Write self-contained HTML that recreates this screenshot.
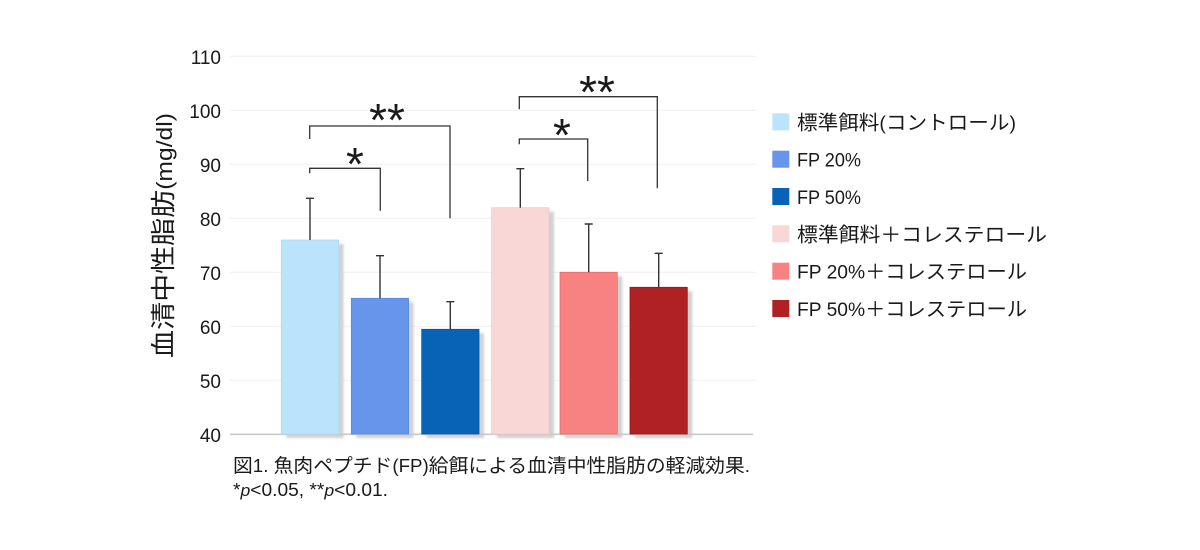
<!DOCTYPE html>
<html>
<head>
<meta charset="utf-8">
<style>
  html, body { margin: 0; padding: 0; background: #ffffff; }
  svg { display: block; }
  text { font-family: "Liberation Sans", "Noto Sans CJK JP", sans-serif; fill: #1a1a1a; }
  .cjk { font-family: "Noto Sans CJK JP", "Liberation Sans", sans-serif; }
</style>
</head>
<body>
<svg width="1200" height="550" viewBox="0 0 1200 550" xmlns="http://www.w3.org/2000/svg">
  <defs>
    <filter id="sh" x="-10%" y="-10%" width="130%" height="130%">
      <feGaussianBlur stdDeviation="1"/>
    </filter>
  </defs>

  <!-- gridlines -->
  <g stroke="#efefef" stroke-width="1">
    <line x1="230" y1="56.3" x2="756" y2="56.3"/>
    <line x1="230" y1="110.3" x2="756" y2="110.3"/>
    <line x1="230" y1="164.3" x2="756" y2="164.3"/>
    <line x1="230" y1="218.3" x2="756" y2="218.3"/>
    <line x1="230" y1="272.3" x2="756" y2="272.3"/>
    <line x1="230" y1="326.3" x2="756" y2="326.3"/>
    <line x1="230" y1="380.3" x2="756" y2="380.3"/>
  </g>

  <!-- tick labels -->
  <g font-size="19" text-anchor="end">
    <text x="221" y="64">110</text>
    <text x="221" y="118">100</text>
    <text x="221" y="172">90</text>
    <text x="221" y="226">80</text>
    <text x="221" y="280">70</text>
    <text x="221" y="334">60</text>
    <text x="221" y="388">50</text>
    <text x="221" y="442">40</text>
  </g>

  <!-- y-axis label -->
  <text transform="translate(172,358) rotate(-90)" x="0" y="0" textLength="245" lengthAdjust="spacingAndGlyphs"><tspan class="cjk" font-size="25">血清中性脂肪</tspan><tspan font-size="22">(mg/dl)</tspan></text>

  <!-- shadows -->
  <g fill="#d2d2d2" filter="url(#sh)">
    <rect x="286.3" y="244" width="57.3" height="194"/>
    <rect x="356.3" y="302.3" width="57.3" height="135.7"/>
    <rect x="426.7" y="333.3" width="57.3" height="104.7"/>
    <rect x="496.7" y="211.7" width="57.3" height="226.3"/>
    <rect x="565" y="276.3" width="57.3" height="161.7"/>
    <rect x="635" y="291.3" width="57.3" height="146.7"/>
  </g>

  <!-- axis -->
  <line x1="230" y1="434.3" x2="753" y2="434.3" stroke="#c9c9c9" stroke-width="1.6"/>

  <!-- bars -->
  <rect x="281.3" y="240" width="57.3" height="194" fill="#bbe3fb" stroke="#aed9f4" stroke-width="0.8"/>
  <rect x="351.3" y="298.3" width="57.3" height="135.7" fill="#6695eb" stroke="#5a89e0" stroke-width="0.8"/>
  <rect x="421.7" y="329.3" width="57.3" height="104.7" fill="#0863b6" stroke="#0657a3" stroke-width="0.8"/>
  <rect x="491.7" y="207.7" width="57.3" height="226.3" fill="#f8d7d6" stroke="#f1c8c7" stroke-width="0.8"/>
  <rect x="560" y="272.3" width="57.3" height="161.7" fill="#f88282" stroke="#f06a6a" stroke-width="0.8"/>
  <rect x="630" y="287.3" width="57.3" height="146.7" fill="#b02124" stroke="#9a1518" stroke-width="0.8"/>

  <!-- error bars -->
  <g stroke="#333" stroke-width="1.4" fill="none">
    <path d="M310 240 V198.3 M306 198.3 H314"/>
    <path d="M380 298.3 V255.7 M376 255.7 H384"/>
    <path d="M450.3 329.3 V301.7 M446.3 301.7 H454.3"/>
    <path d="M520.3 207.7 V168.7 M516.3 168.7 H524.3"/>
    <path d="M588.7 272.3 V224 M584.7 224 H592.7"/>
    <path d="M658.7 287.3 V253.3 M654.7 253.3 H662.7"/>
  </g>

  <!-- significance brackets -->
  <g stroke="#333" stroke-width="1.3" fill="none">
    <path d="M309.7 139 V126 H450 V218.3"/>
    <path d="M309.7 173.3 V168.3 H380.3 V210.7"/>
    <path d="M519.3 109.3 V96.7 H657.3 V188.3"/>
    <path d="M519.3 144.3 V139 H587.7 V181"/>
  </g>
  <g font-size="46" text-anchor="middle">
    <text x="387" y="136">**</text>
    <text x="355" y="180">*</text>
    <text x="597" y="108">**</text>
    <text x="562" y="151">*</text>
  </g>

  <!-- legend -->
  <rect x="772.3" y="113.3" width="17" height="17" fill="#bbe3fb"/>
  <rect x="772.3" y="150.7" width="17" height="17" fill="#6695eb"/>
  <rect x="772.3" y="188" width="17" height="17" fill="#0863b6"/>
  <rect x="772.3" y="225.3" width="17" height="17" fill="#f8d7d6"/>
  <rect x="772.3" y="262.7" width="17" height="17" fill="#f88282"/>
  <rect x="772.3" y="300" width="17" height="17" fill="#b02124"/>

  <text x="797" y="129.5" textLength="219" lengthAdjust="spacingAndGlyphs"><tspan class="cjk" font-size="20">標準餌料</tspan><tspan font-size="19">(</tspan><tspan class="cjk" font-size="20">コントロール</tspan><tspan font-size="19">)</tspan></text>
  <text x="797" y="166.7" font-size="19" textLength="64" lengthAdjust="spacingAndGlyphs">FP 20%</text>
  <text x="797" y="204" font-size="19" textLength="64" lengthAdjust="spacingAndGlyphs">FP 50%</text>
  <text x="797" y="241.3" class="cjk" font-size="20" textLength="250" lengthAdjust="spacingAndGlyphs">標準餌料＋コレステロール</text>
  <text x="797" y="278.7" textLength="230" lengthAdjust="spacingAndGlyphs"><tspan font-size="19">FP 20%</tspan><tspan class="cjk" font-size="20">＋コレステロール</tspan></text>
  <text x="797" y="316" textLength="230" lengthAdjust="spacingAndGlyphs"><tspan font-size="19">FP 50%</tspan><tspan class="cjk" font-size="20">＋コレステロール</tspan></text>

  <!-- caption -->
  <text x="233" y="472" textLength="517" lengthAdjust="spacingAndGlyphs"><tspan class="cjk" font-size="19">図</tspan><tspan font-size="18">1. </tspan><tspan class="cjk" font-size="19">魚肉ペプチド</tspan><tspan font-size="18">(FP)</tspan><tspan class="cjk" font-size="19">給餌による血清中性脂肪の軽減効果</tspan><tspan font-size="18">.</tspan></text>
  <text x="233" y="496" font-size="18.5" textLength="155" lengthAdjust="spacingAndGlyphs">*<tspan font-style="italic" font-size="17">p</tspan>&lt;0.05, **<tspan font-style="italic" font-size="17">p</tspan>&lt;0.01.</text>
</svg>
</body>
</html>
